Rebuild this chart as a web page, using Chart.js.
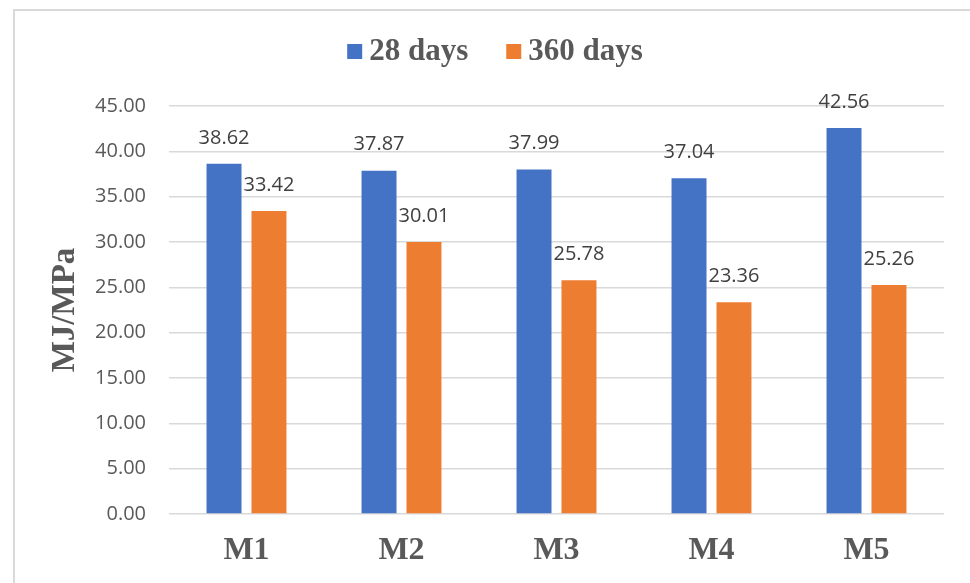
<!DOCTYPE html>
<html>
<head>
<meta charset="utf-8">
<script src="https://cdn.jsdelivr.net/npm/chart.js@4.4.0/dist/chart.umd.min.js"></script>
<style>
  html, body { margin: 0; padding: 0; background: #fff; overflow: hidden; }
  #frame { position: absolute; left: 13px; top: 9px; width: 1000px; height: 620px; border: 2px solid #d9d9d9; }
  #chart { position: absolute; left: 0; top: 0; }
</style>
</head>
<body>
<div id="frame"></div>
<canvas id="chart" width="970" height="583"></canvas>
<script>
const categories = ['M1', 'M2', 'M3', 'M4', 'M5'];
const seriesNames = ['28 days', '360 days'];
const days28 = [38.62, 37.87, 37.99, 37.04, 42.56];
const days360 = [33.42, 30.01, 25.78, 23.36, 25.26];
const colors = ['#4472C4', '#ED7D31'];

const serif = '"Liberation Serif", "Times New Roman", serif';
const sans = '"Open Sans", "Noto Sans", sans-serif';

// value labels above each bar
const valueLabels = {
    id: 'valueLabels',
    afterDatasetsDraw(chart) {
        const ctx = chart.ctx;
        ctx.save();
        ctx.font = '20px ' + sans;
        ctx.fillStyle = '#404040';
        ctx.textAlign = 'center';
        ctx.textBaseline = 'middle';
        chart.data.datasets.forEach((ds, i) => {
            chart.getDatasetMeta(i).data.forEach((bar, j) => {
                ctx.fillText(ds.data[j].toFixed(2), bar.x, bar.y - 26);
            });
        });
        ctx.restore();
    }
};

// legend drawn by hand so the spacing matches the Excel look
const topLegend = {
    id: 'topLegend',
    afterDraw(chart) {
        const ctx = chart.ctx;
        const box = 15, gapText = 7, gapItem = 38;
        ctx.save();
        ctx.font = 'bold 31px ' + serif;
        ctx.textBaseline = 'middle';
        const widths = chart.data.datasets.map(ds => ctx.measureText(ds.label).width);
        let total = 0;
        widths.forEach((w, i) => { total += box + gapText + w + (i ? gapItem : 0); });
        let x = chart.width / 2 + 10 - total / 2;
        const y = 51.5;
        chart.data.datasets.forEach((ds, i) => {
            ctx.fillStyle = ds.backgroundColor;
            ctx.fillRect(x, y - box / 2, box, box);
            x += box + gapText;
            ctx.fillStyle = '#595959';
            ctx.fillText(ds.label, x, y);
            x += widths[i] + gapItem;
        });
        ctx.restore();
    }
};

new Chart(document.getElementById('chart'), {
    type: 'bar',
    data: {
        labels: categories,
        datasets: [
            { label: seriesNames[0], data: days28, backgroundColor: colors[0] },
            { label: seriesNames[1], data: days360, backgroundColor: colors[1] }
        ]
    },
    options: {
        responsive: false,
        animation: false,
        categoryPercentage: 0.58,
        barPercentage: 0.778,
        layout: { padding: { top: 106, right: 26, bottom: 0, left: 0 } },
        plugins: {
            legend: { display: false },
            tooltip: { enabled: false }
        },
        scales: {
            x: {
                grid: { display: false, drawTicks: false },
                border: { display: false },
                ticks: {
                    padding: 18,
                    color: '#595959',
                    font: { family: serif, size: 32, weight: 'bold' }
                },
                afterFit: s => { s.height = 69; }
            },
            y: {
                min: 0,
                max: 45,
                grid: { color: '#d9d9d9', lineWidth: 1.5, drawTicks: false },
                border: { display: false },
                ticks: {
                    stepSize: 5,
                    padding: 23,
                    color: '#595959',
                    font: { family: sans, size: 20 },
                    callback: v => v.toFixed(2)
                },
                title: {
                    display: true,
                    text: 'MJ/MPa',
                    color: '#595959',
                    font: { family: serif, size: 33, weight: 'bold', lineHeight: 1.2 },
                    padding: { top: 46, bottom: 0 }
                },
                afterFit: s => { s.width = 169; }
            }
        }
    },
    plugins: [valueLabels, topLegend]
});
</script>
</body>
</html>
